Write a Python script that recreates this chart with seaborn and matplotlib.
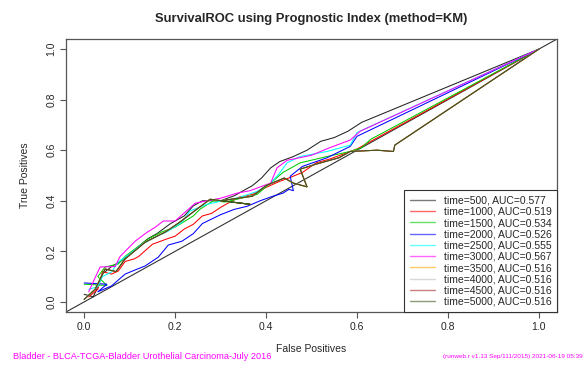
import matplotlib
matplotlib.use('Agg')
import matplotlib.pyplot as plt
import seaborn as sns
import pandas as pd

sns.set_style('white')
plt.rcParams['font.family'] = ['Liberation Sans', 'DejaVu Sans']

# Survival times and AUCs from the legend
times = [500, 1000, 1500, 2000, 2500, 3000, 3500, 4000, 4500, 5000]
aucs = [0.577, 0.519, 0.534, 0.526, 0.555, 0.567, 0.516, 0.516, 0.516, 0.516]
colors = ['#222222', 'red', '#00CD00', 'blue', 'cyan', 'magenta',
          'orange', '#BEBEBE', 'brown', '#3d5a1e']

# ROC curves (false positives, true positives)
fp_500 = [0.00, 0.02, 0.03, 0.04, 0.06, 0.08, 0.10, 0.12, 0.14, 0.16, 0.19, 0.22, 0.24,
          0.26, 0.30, 0.33, 0.35, 0.37, 0.39, 0.41, 0.43, 0.46, 0.49, 0.52, 0.55, 0.58,
          0.61, 1.0]
tp_500 = [0.03, 0.02, 0.06, 0.11, 0.14, 0.16, 0.19, 0.22, 0.25, 0.27, 0.31, 0.34, 0.38,
          0.40, 0.40, 0.42, 0.44, 0.46, 0.49, 0.53, 0.555, 0.575, 0.60, 0.635, 0.65, 0.675,
          0.71, 1.0]

fp_1000 = [0.01, 0.03, 0.04, 0.06, 0.075, 0.09, 0.11, 0.12, 0.15, 0.18, 0.20, 0.22, 0.24,
           0.26, 0.28, 0.30, 0.34, 0.37, 0.39, 0.43, 0.45, 0.48, 0.51, 0.54, 0.57, 0.60,
           0.62, 1.0]
tp_1000 = [0.02, 0.05, 0.12, 0.11, 0.122, 0.16, 0.17, 0.18, 0.228, 0.248, 0.26, 0.288,
           0.307, 0.34, 0.35, 0.374, 0.414, 0.425, 0.445, 0.477, 0.49, 0.512, 0.55, 0.565,
           0.585, 0.605, 0.625, 1.0]

fp_1500 = [0.00, 0.05, 0.03, 0.046, 0.075, 0.09, 0.112, 0.14, 0.17, 0.20, 0.222, 0.24,
           0.255, 0.284, 0.31, 0.336, 0.38, 0.41, 0.437, 0.475, 0.534, 0.585, 0.61, 0.63,
           1.0]
tp_1500 = [0.07, 0.065, 0.10, 0.138, 0.15, 0.18, 0.21, 0.248, 0.276, 0.296, 0.32, 0.34,
           0.367, 0.40, 0.395, 0.406, 0.425, 0.47, 0.512, 0.55, 0.575, 0.595, 0.61, 0.643,
           1.0]

fp_2000 = [0.00, 0.05, 0.03, 0.06, 0.09, 0.117, 0.134, 0.163, 0.185, 0.215, 0.24, 0.26,
           0.30, 0.33, 0.358, 0.387, 0.415, 0.437, 0.45, 0.46, 0.453, 0.48, 0.534, 0.585,
           0.60, 1.0]
tp_2000 = [0.075, 0.07, 0.04, 0.063, 0.11, 0.13, 0.142, 0.177, 0.225, 0.24, 0.27, 0.31,
           0.345, 0.366, 0.378, 0.40, 0.418, 0.43, 0.445, 0.44, 0.497, 0.536, 0.57, 0.615,
           0.655, 1.0]

fp_2500 = [0.01, 0.03, 0.04, 0.06, 0.075, 0.10, 0.127, 0.156, 0.185, 0.215, 0.233, 0.27,
           0.305, 0.343, 0.38, 0.41, 0.43, 0.446, 0.475, 0.534, 0.585, 0.60, 1.0]
tp_2500 = [0.05, 0.06, 0.10, 0.118, 0.158, 0.19, 0.228, 0.256, 0.28, 0.315, 0.36, 0.386,
           0.40, 0.414, 0.437, 0.47, 0.51, 0.55, 0.575, 0.595, 0.62, 0.67, 1.0]

fp_3000 = [0.01, 0.02, 0.035, 0.068, 0.079, 0.112, 0.138, 0.156, 0.174, 0.20, 0.222,
           0.244, 0.27, 0.30, 0.336, 0.365, 0.38, 0.41, 0.424, 0.446, 0.50, 0.54, 0.585,
           0.607, 1.0]
tp_3000 = [0.04, 0.08, 0.138, 0.14, 0.18, 0.24, 0.275, 0.295, 0.32, 0.32, 0.355, 0.39,
           0.40, 0.41, 0.43, 0.44, 0.45, 0.47, 0.53, 0.56, 0.58, 0.61, 0.64, 0.675, 1.0]

# 3500-5000 share the same curve
fp_late = [0.00, 0.024, 0.046, 0.07, 0.09, 0.134, 0.178, 0.21, 0.248, 0.277, 0.365, 0.30,
           0.37, 0.40, 0.44, 0.46, 0.49, 0.475, 0.51, 0.56, 0.585, 0.644, 0.68, 0.683, 1.0]
tp_late = [0.01, 0.05, 0.13, 0.12, 0.17, 0.236, 0.276, 0.315, 0.367, 0.406, 0.386, 0.40,
           0.418, 0.46, 0.49, 0.47, 0.455, 0.525, 0.545, 0.57, 0.595, 0.60, 0.595, 0.62,
           1.0]

fps = [fp_500, fp_1000, fp_1500, fp_2000, fp_2500, fp_3000, fp_late, fp_late, fp_late, fp_late]
tps = [tp_500, tp_1000, tp_1500, tp_2000, tp_2500, tp_3000, tp_late, tp_late, tp_late, tp_late]

labels = [f'time={t}, AUC={a:.3f}' for t, a in zip(times, aucs)]
rows = []
for lab, fx, ty in zip(labels, fps, tps):
    for i, (a, b) in enumerate(zip(fx, ty)):
        rows.append({'curve': lab, 'order': i, 'fp': a, 'tp': b})
df = pd.DataFrame(rows)

fig = plt.figure(figsize=(5.84, 3.71), dpi=100)
ax = fig.add_axes([0.113, 0.159, 0.841, 0.736])

sns.lineplot(data=df, x='fp', y='tp', hue='curve', hue_order=labels,
             palette=dict(zip(labels, colors)), sort=False, estimator=None,
             linewidth=0.75, ax=ax)
ax.axline((0, 0), (1, 1), color='#333333', lw=0.8, zorder=0)

ax.set_xlim(-0.04, 1.04)
ax.set_ylim(-0.04, 1.04)
ax.set_xticks([0, 0.2, 0.4, 0.6, 0.8, 1.0])
ax.set_yticks([0, 0.2, 0.4, 0.6, 0.8, 1.0])
ax.set_xticklabels(['0.0', '0.2', '0.4', '0.6', '0.8', '1.0'])
ax.set_yticklabels(['0.0', '0.2', '0.4', '0.6', '0.8', '1.0'], rotation=90, va='center')
ax.tick_params(direction='out', length=4, width=0.8, color='#555555', labelsize=7.5,
               pad=3, bottom=True, left=True)
for sp in ax.spines.values():
    sp.set_color('#555555')
    sp.set_linewidth(0.9)

ax.set_xlabel('False Positives', fontsize=7.5, labelpad=9)
ax.set_ylabel('True Positives', fontsize=7.5, labelpad=12)
ax.set_title('SurvivalROC using Prognostic Index (method=KM)', fontsize=9.4,
             fontweight='bold', pad=12)

leg = ax.legend(loc='lower right', borderaxespad=0, fontsize=7.5, frameon=True,
                fancybox=False, edgecolor='#333333', framealpha=1,
                handlelength=2.4, labelspacing=0.12, borderpad=0.5, handletextpad=0.9)
leg.get_frame().set_linewidth(0.8)
for ln in leg.get_lines():
    ln.set_linewidth(1.0)
    ln.set_alpha(0.6)

fig.text(0.022, 0.038, 'Bladder - BLCA-TCGA-Bladder Urothelial Carcinoma-July 2016',
         color='magenta', fontsize=6.6, va='center')
fig.text(0.997, 0.038, '(runweb.r v1.13 Sep/111/2015) 2021-06-19 05:39',
         color='magenta', fontsize=4.6, va='center', ha='right')

fig.savefig('out.png', dpi=100)
